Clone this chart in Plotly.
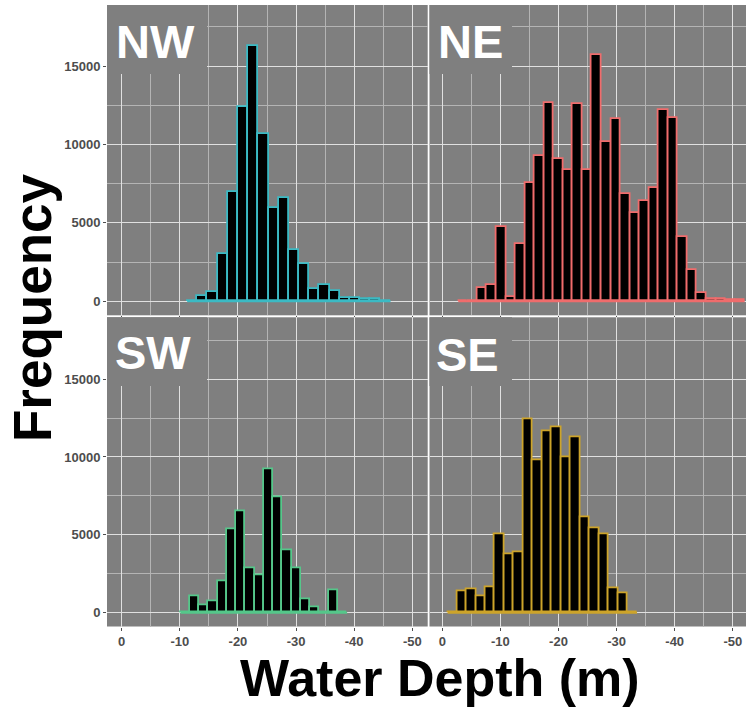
import numpy as np
import plotly.graph_objects as go

# ---------------- data ----------------
panels = ["NW", "NE", "SW", "SE"]

nw_counts = [30, 340, 575, 3000, 6940, 12370, 16290, 10640, 5920, 6600,
             3240, 2390, 770, 1020, 680, 210, 210, 150, 120, 40]
nw_first_edge = -11.26
nw_bin_width = 1.75

ne_counts = [0, 0, 830, 1065, 4750, 255, 3660, 7540, 9290, 12630,
             9100, 8370, 12610, 8370, 15720, 10180, 11630, 6860, 5640, 6410,
             7240, 12200, 11690, 4070, 2000, 530, 130, 170, 110, 60]
ne_first_edge = -2.75
ne_bin_width = 1.643

sw_counts = [0, 1050, 470, 730, 1990, 5360, 6510, 2870, 2380, 9190,
             7440, 4010, 2830, 840, 340, 0, 1440, 0]
sw_first_edge = -10.11
sw_bin_width = 1.593

se_counts = [0, 1370, 1500, 1070, 1650, 5030, 3770, 3870, 12410, 9780,
             11660, 11920, 9950, 11280, 6120, 5410, 5010, 1560, 1220, 0]
se_first_edge = -0.92
se_bin_width = 1.63

x_tickvals = [0, -10, -20, -30, -40, -50]
x_ticktext = ["0", "-10", "-20", "-30", "-40", "-50"]
y_tickvals = [0, 5000, 10000, 15000]
y_ticktext = ["0", "5000", "10000", "15000"]

# ---------------- styling ----------------
W, H = 746, 708
BG = "#7F7F7F"
colors = {"NW": "#3BBAC4", "NE": "#F06C6C", "SW": "#55C78A", "SE": "#CDA42A"}
data = {
    "NW": (nw_counts, nw_first_edge, nw_bin_width),
    "NE": (ne_counts, ne_first_edge, ne_bin_width),
    "SW": (sw_counts, sw_first_edge, sw_bin_width),
    "SE": (se_counts, se_first_edge, se_bin_width),
}
axis_ids = {"NW": ("x", "y"), "NE": ("x2", "y2"), "SW": ("x3", "y3"), "SE": ("x4", "y4")}


def fx(p):
    return p / W


def fy(p):
    return 1 - p / H


fig = go.Figure()

for name in panels:
    counts, first_edge, bw = data[name]
    n = len(counts)
    edges = first_edge - bw * np.arange(n + 1)
    centers = (edges[:-1] + edges[1:]) / 2
    xa, ya = axis_ids[name]
    fig.add_trace(go.Scatter(
        x=[edges[0], edges[-1]], y=[0, 0], mode="lines",
        line=dict(color=colors[name], width=2), xaxis=xa, yaxis=ya,
        showlegend=False, hoverinfo="skip"))
    fig.add_trace(go.Bar(
        x=centers, y=counts, width=bw, xaxis=xa, yaxis=ya,
        marker=dict(color="black", line=dict(color=colors[name], width=1.8)),
        showlegend=False))

tickfont = dict(family="Liberation Sans Narrow, Liberation Sans", size=13,
                color="#4D4D4D", weight="bold")

left_dom = [fx(107), fx(427.7)]
right_dom = [fx(429.5), 1.0]
top_dom = [fy(315.3), fy(5)]
bot_dom = [fy(626.5), fy(317.3)]

common_x = dict(
    showgrid=True, gridcolor="#E0E0E0", gridwidth=1.3,
    minor=dict(dtick=5, tick0=0, showgrid=True, gridcolor="#B4B4B4", gridwidth=0.8),
    tickmode="array", tickvals=x_tickvals, ticktext=x_ticktext,
    ticks="outside", ticklen=3, tickcolor="#4D4D4D", tickwidth=1,
    tickfont=tickfont, zeroline=False, showline=False,
)
common_y = dict(
    showgrid=True, gridcolor="#E0E0E0", gridwidth=1.3,
    minor=dict(dtick=2500, tick0=0, showgrid=True, gridcolor="#B4B4B4", gridwidth=0.8),
    tickmode="array", tickvals=y_tickvals, ticktext=y_ticktext,
    ticks="outside", ticklen=3, tickcolor="#4D4D4D", tickwidth=1,
    tickfont=tickfont, zeroline=False, showline=False,
)
common_y_right = {k: v for k, v in common_y.items() if k != "ticks"}

left_range = [2.53, -52.65]
right_range = [2.2, -52.27]
top_range = [-894, 18895]
bot_range = [-880, 18965]

fig.update_layout(
    width=W, height=H,
    margin=dict(l=0, r=0, t=0, b=0),
    paper_bgcolor="white", plot_bgcolor=BG,
    bargap=0,
    xaxis=dict(domain=left_dom, range=left_range, anchor="y", showticklabels=False, **common_x),
    yaxis=dict(domain=top_dom, range=top_range, anchor="x", **common_y),
    xaxis2=dict(domain=right_dom, range=right_range, anchor="y2", showticklabels=False, **common_x),
    yaxis2=dict(domain=top_dom, range=top_range, anchor="x2", showticklabels=False,
                ticks="", **common_y_right),
    xaxis3=dict(domain=left_dom, range=left_range, anchor="y3", **common_x),
    yaxis3=dict(domain=bot_dom, range=bot_range, anchor="x3", **common_y),
    xaxis4=dict(domain=right_dom, range=right_range, anchor="y4", **common_x),
    yaxis4=dict(domain=bot_dom, range=bot_range, anchor="x4", showticklabels=False,
                ticks="", **common_y_right),
)

# label boxes covering the grid in the top-left of each panel
boxes = {
    "NW": (107, 5, 207, 74),
    "NE": (429.5, 5, 512, 74),
    "SW": (107, 317.3, 207, 386),
    "SE": (429.5, 317.3, 512, 386),
}
label_pos = {"NW": (155, 42), "NE": (470, 42), "SW": (153, 353), "SE": (467, 354)}
for name in panels:
    x0, y0, x1, y1 = boxes[name]
    fig.add_shape(type="rect", xref="paper", yref="paper",
                  x0=fx(x0), x1=fx(x1), y0=fy(y1), y1=fy(y0),
                  fillcolor=BG, line=dict(width=0), layer="above")
    lx, ly = label_pos[name]
    fig.add_annotation(text=name, xref="paper", yref="paper", x=fx(lx), y=fy(ly),
                       xanchor="center", yanchor="middle", showarrow=False,
                       font=dict(family="Liberation Sans", size=47, color="white", weight="bold"))

fig.add_annotation(text="Water Depth (m)", xref="paper", yref="paper",
                   x=fx(440), y=fy(678), xanchor="center", yanchor="middle", showarrow=False,
                   font=dict(family="Liberation Sans", size=52, color="black", weight="bold"))
fig.add_annotation(text="Frequency", xref="paper", yref="paper",
                   x=fx(32), y=fy(308), xanchor="center", yanchor="middle", showarrow=False,
                   textangle=-90,
                   font=dict(family="Liberation Sans", size=53, color="black", weight="bold"))

fig.write_html("out.html", config={"displayModeBar": False},
               post_script="document.body.style.margin='0';document.body.style.overflow='hidden';")
